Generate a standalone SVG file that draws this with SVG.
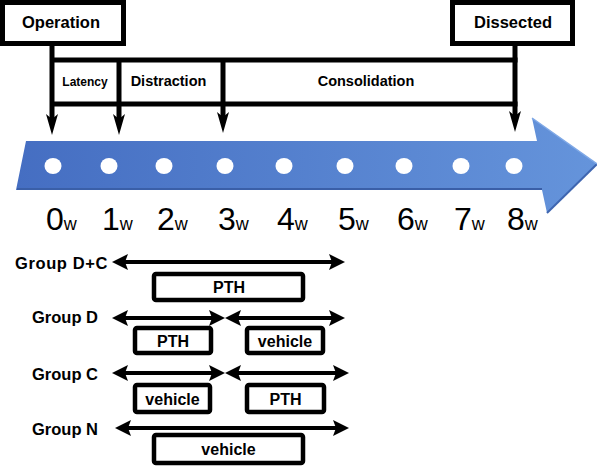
<svg xmlns="http://www.w3.org/2000/svg" width="597" height="466" viewBox="0 0 597 466">
  <defs>
    <linearGradient id="blue" x1="0" y1="0" x2="1" y2="0">
      <stop offset="0" stop-color="#456EC2"/>
      <stop offset="1" stop-color="#6594DB"/>
    </linearGradient>
    <path id="down" d="M0,0 L-6,-21 L0,-16 L6,-21 Z"/>
    <path id="headL" d="M0,0 L16,-8 L13,0 L16,8 Z"/>
    <path id="headR" d="M0,0 L-16,-8 L-13,0 L-16,8 Z"/>
  </defs>
  <style>
    .box { fill: #ffffff; stroke: #000000; stroke-width: 5; }
    .gbox { fill: #ffffff; stroke: #000000; stroke-width: 4.5; }
    .ln { stroke: #000000; stroke-width: 5; fill: none; }
    .gl { stroke: #000000; stroke-width: 4; fill: none; }
    .hd { fill: #000000; }
    .b { font-family: "Liberation Sans", Arial, sans-serif; font-weight: bold; fill: #000000; }
    .n { font-family: "Liberation Sans", Arial, sans-serif; fill: #000000; }
    .dot { fill: #ffffff; }
  </style>

  <g id="timeline-arrow">
    <polygon points="26,141 537,141 532,118 597,164 547,213 542,190 16,190" fill="url(#blue)"/>
    <line x1="17" y1="189" x2="542" y2="189" stroke="#3A5FA8" stroke-width="2"/>
    <line x1="597" y1="164" x2="547" y2="213" stroke="#3F66B0" stroke-width="2"/>
    <line x1="532" y1="118" x2="597" y2="164" stroke="#7FA8E6" stroke-width="1.5"/>
    <g class="dot">
      <ellipse cx="53" cy="166" rx="8.5" ry="8"/>
      <ellipse cx="109" cy="166" rx="8.5" ry="8"/>
      <ellipse cx="164" cy="166" rx="8.5" ry="8"/>
      <ellipse cx="225" cy="166" rx="8.5" ry="8"/>
      <ellipse cx="284" cy="166" rx="8.5" ry="8"/>
      <ellipse cx="345" cy="166" rx="8.5" ry="8"/>
      <ellipse cx="404" cy="166" rx="8.5" ry="8"/>
      <ellipse cx="461" cy="166" rx="8.5" ry="8"/>
      <ellipse cx="514" cy="166" rx="8.5" ry="8"/>
    </g>
  </g>

  <g id="week-labels" class="n">
    <text x="46" y="230" font-size="32">0<tspan font-size="18">w</tspan></text>
    <text x="102" y="230" font-size="32">1<tspan font-size="18">w</tspan></text>
    <text x="157" y="230" font-size="32">2<tspan font-size="18">w</tspan></text>
    <text x="218" y="230" font-size="32">3<tspan font-size="18">w</tspan></text>
    <text x="277" y="230" font-size="32">4<tspan font-size="18">w</tspan></text>
    <text x="338" y="230" font-size="32">5<tspan font-size="18">w</tspan></text>
    <text x="397" y="230" font-size="32">6<tspan font-size="18">w</tspan></text>
    <text x="454" y="230" font-size="32">7<tspan font-size="18">w</tspan></text>
    <text x="507" y="230" font-size="32">8<tspan font-size="18">w</tspan></text>
  </g>

  <g id="operation">
    <rect class="box" x="2.5" y="2.5" width="121" height="41"/>
    <text class="b" x="61" y="28" font-size="16.5" text-anchor="middle">Operation</text>
  </g>
  <g id="dissected">
    <rect class="box" x="452.5" y="2.5" width="120" height="41"/>
    <text class="b" x="513" y="28" font-size="16.5" text-anchor="middle">Dissected</text>
  </g>

  <g id="phases">
    <text class="b" x="85" y="86" font-size="12" text-anchor="middle">Latency</text>
    <text class="b" x="168.5" y="86" font-size="14.5" text-anchor="middle">Distraction</text>
    <text class="b" x="366" y="86" font-size="14.5" text-anchor="middle">Consolidation</text>
  </g>

  <g id="connectors">
    <line class="ln" x1="52" y1="60" x2="517.5" y2="60"/>
    <line class="ln" x1="52" y1="104" x2="517.5" y2="104"/>
    <line class="ln" x1="52" y1="44" x2="52" y2="120"/>
    <line class="ln" x1="119" y1="60" x2="119" y2="120"/>
    <line class="ln" x1="223" y1="60" x2="223" y2="118"/>
    <line class="ln" x1="515" y1="44" x2="515" y2="117"/>
    <use href="#down" class="hd" x="52" y="135"/>
    <use href="#down" class="hd" x="119" y="135"/>
    <use href="#down" class="hd" x="223" y="133"/>
    <use href="#down" class="hd" x="515" y="132"/>

    <!-- Group D+C -->
    <line class="gl" x1="125" y1="262" x2="332" y2="262"/>
    <use href="#headL" class="hd" x="112" y="262"/>
    <use href="#headR" class="hd" x="345" y="262"/>
    <!-- Group D -->
    <line class="gl" x1="125" y1="318" x2="212" y2="318"/>
    <use href="#headL" class="hd" x="112" y="318"/>
    <use href="#headR" class="hd" x="225" y="318"/>
    <line class="gl" x1="238" y1="318" x2="332" y2="318"/>
    <use href="#headL" class="hd" x="225" y="318"/>
    <use href="#headR" class="hd" x="345" y="318"/>
    <!-- Group C -->
    <line class="gl" x1="125" y1="373" x2="212" y2="373"/>
    <use href="#headL" class="hd" x="112" y="373"/>
    <use href="#headR" class="hd" x="225" y="373"/>
    <line class="gl" x1="238" y1="373" x2="336" y2="373"/>
    <use href="#headL" class="hd" x="225" y="373"/>
    <use href="#headR" class="hd" x="349" y="373"/>
    <!-- Group N -->
    <line class="gl" x1="128" y1="428" x2="336" y2="428"/>
    <use href="#headL" class="hd" x="115" y="428"/>
    <use href="#headR" class="hd" x="349" y="428"/>
  </g>

  <g id="group-labels" class="b" font-size="16.5">
    <text x="108" y="269" text-anchor="end" letter-spacing="0.6">Group D+C</text>
    <text x="32" y="323">Group D</text>
    <text x="32" y="380">Group C</text>
    <text x="32" y="435">Group N</text>
  </g>

  <g id="dc-pth">
    <rect class="gbox" x="154" y="274" width="149" height="26" rx="2"/>
    <text class="b" x="229" y="293" font-size="16" text-anchor="middle">PTH</text>
  </g>
  <g id="d-pth">
    <rect class="gbox" x="135" y="328" width="76" height="25" rx="2"/>
    <text class="b" x="173" y="346.5" font-size="16" text-anchor="middle">PTH</text>
  </g>
  <g id="d-vehicle">
    <rect class="gbox" x="247" y="328" width="76" height="25" rx="2"/>
    <text class="b" x="285" y="346.5" font-size="16" text-anchor="middle">vehicle</text>
  </g>
  <g id="c-vehicle">
    <rect class="gbox" x="135" y="385" width="75" height="27" rx="2"/>
    <text class="b" x="172.5" y="404.5" font-size="16" text-anchor="middle">vehicle</text>
  </g>
  <g id="c-pth">
    <rect class="gbox" x="247" y="385" width="77" height="27" rx="2"/>
    <text class="b" x="285.5" y="404.5" font-size="16" text-anchor="middle">PTH</text>
  </g>
  <g id="n-vehicle">
    <rect class="gbox" x="154" y="435" width="149" height="28" rx="2"/>
    <text class="b" x="228.5" y="455" font-size="16" text-anchor="middle">vehicle</text>
  </g>
</svg>
